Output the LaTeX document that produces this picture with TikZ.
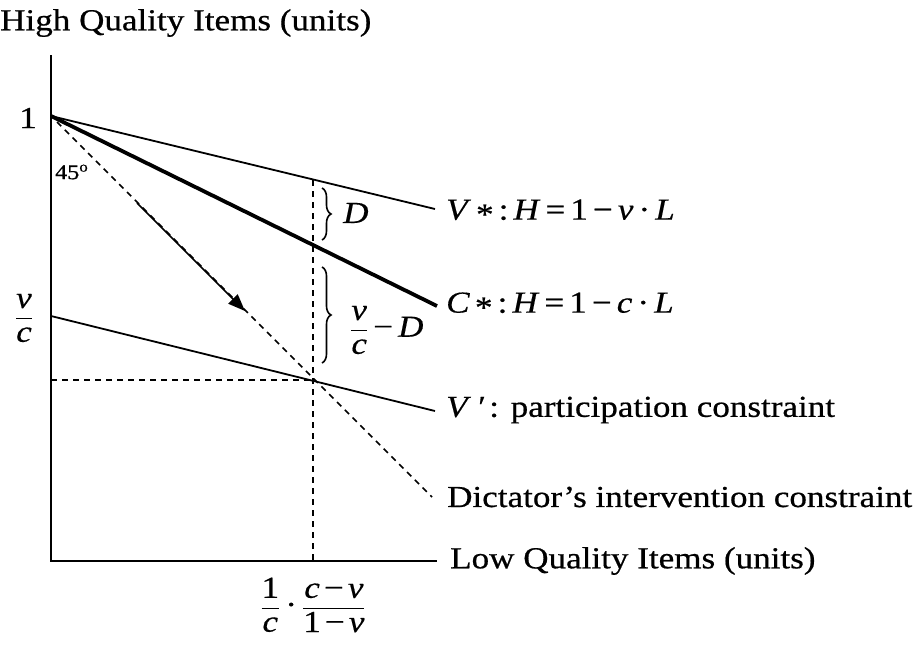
\documentclass[tikz,border=0pt]{standalone}
\usepackage{amsmath}
\usepackage[no-math]{fontspec}
\setmainfont{Liberation Serif}[FakeStretch=1.15,UprightFeatures={RawFeature={embolden=0.6}},ItalicFeatures={RawFeature={embolden=0.4}}]
\usetikzlibrary{decorations.pathreplacing,arrows.meta}
\newcommand{\mi}[1]{\textit{#1}}
\newcommand{\tm}{\textup{−}}
\newcommand{\astk}{\raisebox{-0.35ex}{*}}
\begin{document}
\begin{tikzpicture}[x=1pt,y=-1pt,
  thinline/.style={line width=1.8pt},
  thickline/.style={line width=3.8pt},
  dashline/.style={line width=1.5pt,dash pattern=on 6pt off 5pt},
  lbl/.style={anchor=west,inner sep=0pt,font=\fontsize{30.5}{33}\selectfont},
  bracestyle/.style={line width=1.6pt,decorate,decoration={brace,amplitude=9pt}}]
\useasboundingbox (0,0) rectangle (922,646);
% coordinates
\coordinate (ytop) at (51,55);
\coordinate (O) at (51,561);
\coordinate (xend) at (437,561);
\coordinate (P1) at (51,116);
\coordinate (Vend) at (435,209);
\coordinate (Cend) at (437,306);
\coordinate (Pv) at (51,316);
\coordinate (Vpend) at (435,411);
\coordinate (Dend) at (432,497);
\coordinate (Dstart) at (57,122);
\coordinate (Vtop) at (313,180);
\coordinate (Vbot) at (313,561);
\coordinate (X) at (313,380);
\coordinate (Hl) at (51,380);
\coordinate (Astart) at (137,203);
\coordinate (Atip) at (245,311);
% axes
\draw[thinline] (ytop) -- (O) -- (xend);
% lines
\draw[thinline] (P1) -- (Vend);
\draw[thickline] (P1) -- (Cend);
\draw[thinline] (Pv) -- (Vpend);
\draw[dashline] (Dstart) -- (Dend);
\draw[dashline] (Vtop) -- (Vbot);
\draw[dashline] (Hl) -- (X);
\draw[line width=1.6pt,-{Triangle[length=17pt,width=13pt]}] (Astart) -- (Atip);
% braces
\draw[bracestyle] (322,188) -- (322,240);
\draw[bracestyle] (322,267) -- (322,363);
% labels
\node[lbl] (title) at (0,23) {High Quality Items (units)};
\node[lbl,anchor=center] (one) at (28,118) {1};
\node[lbl,anchor=center] (vc) at (24,318) {$\dfrac{\mi{v}}{\mi{c}}$};
\node[lbl,font=\fontsize{21}{23}\selectfont] (deg) at (55,172) {45\textsuperscript{o}};
\node[lbl] (Dl) at (343,213) {\mi{D}};
\node[lbl] (vcD) at (350,330) {$\dfrac{\mi{v}}{\mi{c}}$\,\tm\,\mi{D}};
\node[lbl] (Vstar) at (446,212) {\mi{V}\,\astk\,:\,\mi{H}\,=\,1\,\tm\,\mi{v}\,·\,\mi{L}};
\node[lbl] (Cstar) at (446,305) {\mi{C}\,\astk\,:\,\mi{H}\,=\,1\,\tm\,\mi{c}\,·\,\mi{L}};
\node[lbl] (Vprime) at (446,410) {\mi{V}\,\textit{′}\,: participation constraint};
\node[lbl] (dict) at (447,497) {Dictator’s intervention constraint};
\node[lbl] (xlab) at (450,561) {Low Quality Items (units)};
\node[lbl,anchor=center] (xval) at (313,605) {$\dfrac{\textup{1}}{\mi{c}}$\,·\,$\dfrac{\mi{c}\,\tm\,\mi{v}}{\textup{1}\,\tm\,\mi{v}}$};
\end{tikzpicture}
\end{document}
